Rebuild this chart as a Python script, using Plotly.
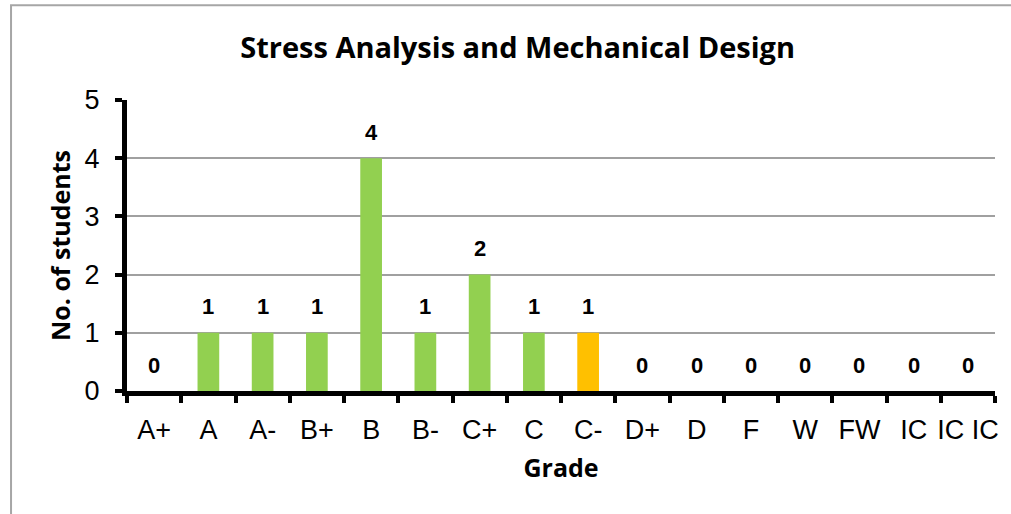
import plotly.graph_objects as go

grades = ["A+", "A", "A-", "B+", "B", "B-", "C+", "C", "C-", "D+", "D", "F", "W", "FW", "IC", "IC IC"]
students = [0, 1, 1, 1, 4, 1, 2, 1, 1, 0, 0, 0, 0, 0, 0, 0]
bar_colors = ["#92D050"] * 8 + ["#FFC000"] + ["#92D050"] * 7
y_ticks = [0, 1, 2, 3, 4, 5]

fig = go.Figure()
fig.add_trace(go.Bar(x=grades, y=students, marker=dict(color=bar_colors, line=dict(width=0)),
                     width=0.4, hoverinfo="skip"))

for g, v in zip(grades, students):
    fig.add_annotation(x=g, y=v, text="<b>%d</b>" % v, showarrow=False, yshift=26,
                       font=dict(family="Liberation Sans", size=22, color="black"),
                       xref="x", yref="y")

fig.add_shape(type="rect", xref="paper", yref="paper", x0=-0.1336, x1=1.2, y0=-0.6, y1=1.326,
              line=dict(color="#a6a6a6", width=2), fillcolor="rgba(0,0,0,0)", layer="below")

fig.update_layout(
    width=1011, height=514,
    margin=dict(l=127, r=16, t=100, b=123),
    paper_bgcolor="white", plot_bgcolor="white",
    showlegend=False,
    title=dict(text="<b>Stress Analysis and Mechanical Design</b>", x=0.512, xref="container",
               y=1 - 48 / 514, yref="container", xanchor="center", yanchor="middle",
               font=dict(family="Open Sans", size=29, color="black")),
    xaxis=dict(type="category", tickson="boundaries", ticks="outside", ticklen=7, tickwidth=4,
               tickcolor="black", showline=True, linecolor="black", linewidth=5,
               showgrid=False, tickangle=0, automargin=False,
               tickfont=dict(family="Liberation Sans", size=27, color="black"),
               ticklabelstandoff=11,
               title=dict(text="<b>Grade</b>", font=dict(family="Open Sans", size=25, color="black"),
                          standoff=17)),
    yaxis=dict(range=[0, 5], tickvals=y_ticks, ticks="outside", ticklen=7, tickwidth=4,
               tickcolor="black", showline=True, linecolor="black", linewidth=5,
               showgrid=True, gridcolor="#a0a0a0", gridwidth=1.5, zeroline=False, automargin=False,
               tickfont=dict(family="Liberation Sans", size=27, color="black"),
               ticklabelstandoff=10,
               title=dict(text="<b>No. of students</b>", font=dict(family="Open Sans", size=25, color="black"),
                          standoff=8)),
)

fig.write_html("out.html", config={"displayModeBar": False},
               post_script="document.body.style.margin='0';")
